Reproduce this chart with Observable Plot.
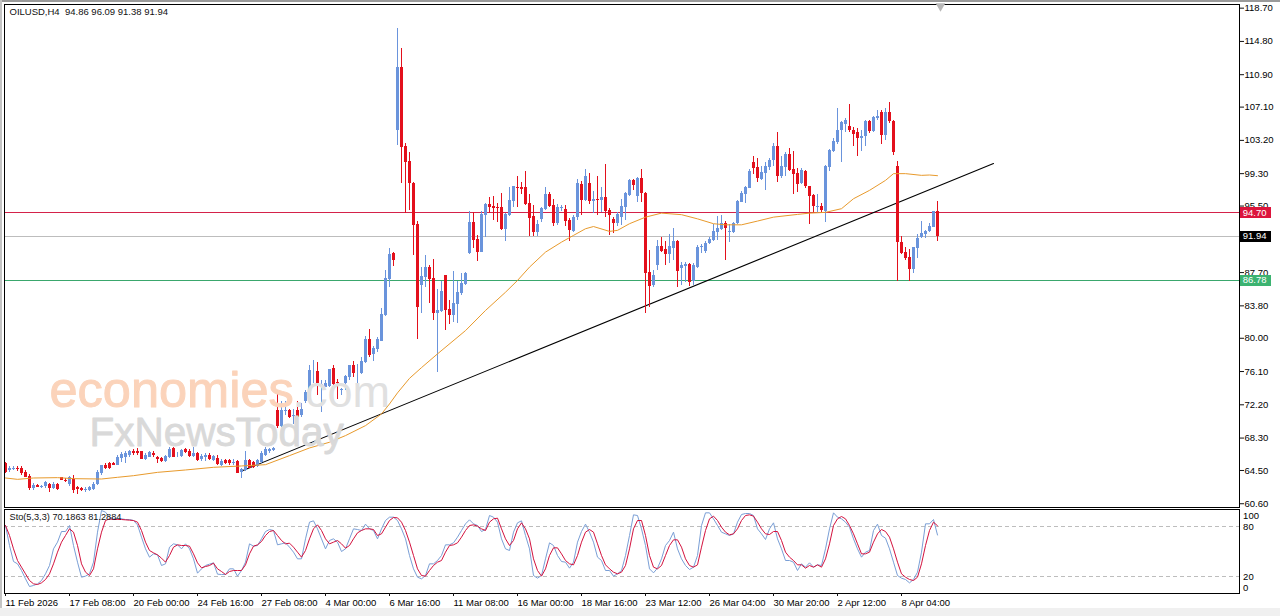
<!DOCTYPE html>
<html>
<head>
<meta charset="utf-8">
<script src="https://cdn.jsdelivr.net/npm/d3@7"></script>
<script src="https://cdn.jsdelivr.net/npm/@observablehq/plot@0.6"></script>
<style>
html,body{margin:0;padding:0;background:#fff;width:1280px;height:616px;overflow:hidden}
#chart{position:relative;width:1280px;height:616px}
#chart svg{position:absolute;left:0}
.strip{position:absolute}
</style>
</head>
<body>
<div id="chart">
<div class="strip" style="left:0;top:0;width:1280px;height:2px;background:#9a9a9a"></div>
<div class="strip" style="left:0;top:0;width:2px;height:608px;background:#c4c4c4"></div>
<div class="strip" style="left:0;top:608px;width:1280px;height:8px;background:#f0f0f0"></div>
</div>
<script>
const opens = [65.34,64.48,64.64,64.79,64.79,64.32,63.85,62.37,62.76,62.49,62.60,62.91,62.37,62.84,63.62,63.38,62.80,63.46,62.45,62.37,
62.13,62.21,62.29,62.84,64.09,65.11,65.26,65.34,65.11,65.85,65.97,66.28,66.75,66.75,66.67,65.81,66.05,66.51,65.97,65.89,
65.50,65.97,67.06,66.20,66.12,66.91,66.75,66.12,66.44,65.73,65.97,66.28,65.65,65.89,65.11,65.65,65.65,65.34,65.50,64.25,
64.48,65.65,65.42,64.95,65.42,66.28,66.75,66.83,71.52,69.64,71.36,71.52,70.81,71.52,70.89,72.60,72.77,76.06,76.13,74.41,
74.26,74.34,76.45,74.80,73.87,74.65,75.35,76.84,75.82,75.82,77.15,79.89,78.09,78.64,79.66,82.63,86.85,89.91,104.38,111.70,
102.50,100.74,98.20,93.35,86.19,87.09,88.34,87.01,82.94,83.18,87.32,83.33,82.71,83.96,85.29,86.31,89.98,93.58,91.55,90.10,
94.44,95.70,95.46,95.38,95.30,92.80,94.44,96.01,97.73,97.65,97.65,95.77,94.29,92.41,93.97,95.15,96.87,95.54,93.43,95.23,
95.07,93.82,92.57,94.13,98.04,96.17,98.12,96.09,96.24,96.17,96.48,94.99,93.90,93.43,94.21,95.30,96.79,98.51,96.63,98.75,
97.03,87.72,86.15,88.50,90.77,90.38,89.83,90.54,91.40,88.19,88.42,88.66,86.62,88.35,90.62,90.22,91.08,91.48,92.41,92.73,
93.43,92.41,92.41,93.43,95.94,96.87,97.58,100.63,100.00,98.67,99.30,100.00,100.79,102.43,98.91,100.00,101.57,99.77,99.30,98.13,
99.61,97.74,96.72,95.31,95.47,94.92,100.00,101.88,102.90,104.31,105.09,104.86,104.39,104.07,103.37,103.60,105.40,104.23,105.79,106.50,
103.76,106.50,105.40,100.16,91.24,90.07,89.44,88.11,90.54,91.79,92.18,92.49,93.04,94.86];
const highs = [65.42,64.95,64.95,64.95,64.95,64.48,64.01,62.99,62.84,62.76,63.15,62.99,63.07,62.99,63.70,63.54,63.78,63.93,62.68,62.52,
62.45,62.60,63.07,64.48,65.11,65.34,65.42,65.42,66.20,66.59,66.67,66.83,66.91,67.06,66.75,66.44,66.75,66.67,66.12,65.97,
66.28,67.14,67.22,66.59,66.91,67.06,66.98,67.14,66.59,66.36,66.51,66.51,66.28,66.20,65.73,65.81,65.81,65.73,65.65,64.79,
66.75,65.81,65.50,65.73,66.67,67.22,67.06,67.22,73.87,72.54,72.54,71.60,71.60,72.54,72.30,73.90,76.80,77.39,77.15,75.00,
75.04,76.37,76.76,75.12,74.10,75.63,76.84,77.31,76.92,77.78,80.20,80.99,79.03,80.05,83.45,87.95,90.49,90.06,116.27,114.00,
102.82,101.80,98.25,93.66,88.34,89.71,88.54,89.20,85.68,86.70,87.40,84.43,87.79,86.70,87.64,87.72,94.91,94.80,92.06,94.91,
95.85,96.56,96.63,95.85,96.95,94.68,97.73,97.85,98.98,98.28,99.53,96.87,95.54,93.82,95.38,97.65,97.10,96.24,95.70,95.62,
95.54,94.05,94.37,98.67,98.36,99.76,99.29,97.26,98.98,97.73,100.39,95.19,94.21,94.76,96.32,97.10,98.67,98.67,98.83,99.76,
97.10,90.30,87.95,91.47,91.87,91.40,92.18,92.88,91.48,88.93,88.93,88.82,88.74,90.89,91.01,91.40,91.87,93.35,94.29,94.45,
93.74,93.28,93.59,96.17,97.19,97.81,99.77,101.33,101.02,100.16,100.55,101.10,102.82,104.15,101.33,101.73,102.19,101.84,99.85,99.85,
99.69,97.81,96.80,96.87,95.78,100.24,102.12,103.37,106.97,105.40,105.72,107.44,104.70,104.62,104.31,105.48,105.48,106.03,106.73,106.73,
106.89,107.59,105.48,100.71,91.95,90.69,90.46,90.69,92.18,93.67,92.65,93.51,94.92,96.09];
const lows = [64.20,64.28,64.48,64.40,63.89,63.62,62.21,62.21,62.45,62.41,62.37,61.94,62.29,62.13,63.31,63.07,62.68,61.82,61.66,61.98,
61.94,62.06,62.21,62.76,63.89,64.64,64.64,65.03,65.03,65.46,65.34,65.97,66.20,66.28,65.73,65.65,65.97,66.05,65.34,65.42,
65.42,65.89,65.97,65.97,65.97,66.44,65.97,65.97,65.50,65.50,65.58,65.65,65.50,65.03,64.95,65.18,65.11,65.03,64.09,63.54,
64.40,64.68,64.79,64.87,65.26,66.12,66.44,66.75,69.48,69.56,70.93,70.54,69.88,70.66,70.74,72.40,72.69,74.65,73.28,71.32,
74.18,74.26,74.49,72.85,73.28,73.90,75.04,75.43,74.45,75.74,77.00,77.70,77.31,78.36,79.58,82.55,85.91,88.42,102.62,98.20,
94.68,94.99,89.71,79.89,82.94,85.92,84.04,82.08,76.02,83.06,80.91,81.61,81.89,81.69,85.02,86.19,89.83,90.53,89.04,90.02,
91.86,94.60,93.82,93.62,92.64,91.39,94.29,95.38,95.38,96.87,95.54,91.94,91.94,91.94,93.58,94.99,95.38,93.11,93.27,94.91,
93.11,91.39,92.41,93.82,94.37,96.01,95.70,94.60,94.37,94.80,94.21,92.10,92.33,93.11,93.19,93.82,96.63,97.34,95.93,95.93,
82.94,83.65,85.92,87.95,90.07,88.54,88.74,89.13,85.92,86.19,86.59,86.08,86.19,88.19,89.91,89.91,91.01,91.40,91.48,92.65,
89.13,91.24,92.34,93.28,95.86,95.78,97.50,99.22,98.28,98.44,97.34,99.69,100.08,98.28,98.75,98.91,99.53,96.87,97.11,98.05,
97.50,93.28,94.68,94.68,94.76,93.59,99.53,101.80,102.74,100.55,104.15,104.07,102.43,101.33,101.88,102.43,103.99,104.07,105.56,102.66,
103.21,105.17,101.41,86.62,89.83,89.13,86.70,87.64,89.36,91.71,91.71,92.41,92.96,91.38];
const closes = [64.28,64.79,64.79,64.64,64.09,63.70,62.33,62.76,62.52,62.68,63.07,62.37,62.91,62.29,63.38,63.15,63.62,62.13,62.29,62.21,
62.29,62.45,62.91,64.28,65.03,64.79,64.79,65.11,65.97,66.36,66.51,66.67,66.44,66.51,65.81,66.28,66.59,66.28,65.81,65.58,
66.12,66.98,66.05,66.28,66.83,66.59,66.12,66.44,65.65,66.12,66.20,65.81,66.12,65.18,65.50,65.34,65.26,65.42,64.17,64.64,
65.65,64.79,64.87,65.65,66.51,66.98,66.98,67.06,69.64,71.52,71.52,70.74,70.93,70.74,71.60,73.60,76.21,76.13,74.65,74.57,
74.65,76.29,74.57,74.65,73.98,75.51,76.76,75.82,75.90,77.23,79.89,77.93,78.80,79.81,82.79,87.01,89.83,89.12,111.70,102.42,
100.62,98.20,93.27,83.65,87.25,88.34,86.85,82.94,83.26,85.45,83.26,82.71,84.04,85.37,86.46,87.56,93.58,91.47,90.06,94.52,
95.70,95.38,95.23,95.23,92.72,94.52,96.17,97.81,97.57,97.49,95.70,94.05,92.41,93.35,95.23,96.87,95.46,93.43,95.38,95.38,
93.66,92.64,94.21,98.12,96.17,98.98,96.01,96.24,96.17,96.48,94.83,94.44,93.51,94.52,95.46,96.95,98.51,97.96,98.75,96.95,
87.64,86.07,87.32,90.77,90.22,89.83,90.77,91.40,87.88,88.58,88.66,86.55,88.50,90.69,90.77,91.16,91.63,92.49,92.88,93.43,
92.88,92.49,93.51,96.09,97.03,97.66,99.61,99.93,98.75,99.46,100.16,100.86,102.43,98.99,100.16,101.57,99.69,99.22,98.05,99.69,
97.74,96.64,95.39,95.47,95.00,100.16,102.04,103.06,104.39,105.25,105.48,104.39,103.92,103.37,103.68,105.40,104.23,105.87,106.03,103.76,
106.50,105.40,101.73,91.24,89.91,89.36,88.03,90.62,91.71,92.26,92.57,93.12,94.84,91.94];

const maIndex = [0,3,7,13,17,24,28,32,38,45,52,59,65,71,76,81,85,90,94,96,98,101,104,108,115,120,125,128,131,135,139,142,145,147,151,153,156,160,164,169,173,177,180,184,188,192,198,201,205,209,212,216,220,222,225,229,231,233];
const maPrice = [63.62,63.46,63.62,63.66,63.54,63.50,63.70,63.89,64.28,64.56,64.87,65.03,65.18,66.24,67.14,67.81,68.59,69.76,71.13,72.30,73.60,75.30,76.56,78.17,80.90,83.26,85.40,86.78,88.34,90.10,91.27,92.06,92.84,93.10,92.53,92.65,93.43,94.20,94.67,94.49,94.00,93.43,93.30,93.30,93.74,94.20,94.52,94.67,94.76,95.19,96.36,97.34,98.51,99.30,99.30,99.10,99.14,99.06];

const stoK = [81.6,57.6,38.4,35.6,27.6,17.6,8.4,9.6,11.6,15.6,23.6,33.6,53.6,61.6,74.4,74.4,81.6,57.6,37.6,19.6,
20.8,23.6,37.6,73.6,99.6,97.6,91.6,89.6,89.6,89.6,88.8,88.8,87.6,82.4,67.6,53.6,43.6,47.6,46.4,33.6,
35.6,55.6,59.6,58.4,53.6,59.6,53.6,41.6,24.4,29.6,33.6,35.2,36.8,23.2,22.8,22.8,29.6,29.6,20.8,27.6,
37.6,59.6,56.8,57.6,65.6,74.4,76.8,75.6,58.4,59.6,60.8,55.6,49.6,41.6,41.6,65.6,85.6,87.2,77.6,65.6,
53.6,63.6,65.6,61.6,50.4,53.6,65.6,77.6,76.8,75.6,83.2,77.6,75.6,65.6,77.6,87.6,91.6,91.6,87.6,77.6,
65.6,45.6,29.6,19.6,17.6,21.6,35.6,35.6,39.6,45.6,58.4,58.4,60.8,67.6,75.6,83.6,88.4,83.6,81.6,74.4,
76.8,93.6,91.6,85.6,65.6,53.6,51.6,73.6,84.8,87.2,69.6,53.6,21.6,18.4,21.6,41.6,60.8,57.6,45.6,38.4,
37.6,30.4,37.6,61.6,74.4,83.2,73.6,61.6,43.6,39.6,27.6,27.6,20.8,23.6,27.6,45.6,69.6,94.4,93.6,77.6,
57.6,29.6,24.8,30.4,41.6,57.6,63.6,73.6,53.6,41.6,33.6,28.8,31.6,45.6,81.6,96.8,96.8,89.6,81.6,73.6,
71.6,69.6,71.6,85.6,94.8,96,96,93.6,77.6,71.6,64.8,77.6,84.8,65.6,53.6,39.6,39.6,37.6,27.6,35.6,
31.6,36.8,31.6,34.4,33.6,53.6,77.6,96.8,91.6,89.6,85.6,79.6,65.6,53.6,43.6,49.6,51.6,75.6,83.2,69.6,
66.4,53.6,37.6,21.6,18.4,16.8,12.8,16.8,25.6,49.6,83.6,83.6,88.8,70.19];
const stoD = [81.6,69.6,53.6,39.6,31.6,23.6,15.6,11.6,10.8,12.8,16.8,23.6,35.6,49.6,61.6,69.6,77.6,73.6,57.6,35.6,
25.6,21.6,29.6,53.6,73.6,87.6,89.6,88.8,88.8,88.8,88.4,88,87.6,85.6,75.6,61.6,51.6,48.8,46.4,42.4,
37.6,45.6,55.6,58.4,57.6,57.6,56.8,47.6,36.8,30.8,32.4,33.6,36.4,29.6,26.4,22.8,26.4,27.6,27.6,27.6,
34.4,47.6,56.8,58.4,62.4,69.6,74.4,75.6,69.6,63.6,59.6,60.4,55.6,49.6,43.6,51.6,65.6,77.6,82.4,75.6,
65.6,59.6,61.6,63.6,59.6,54.4,57.6,65.6,72.8,75.6,77.6,77.6,76.8,69.6,71.6,79.6,87.6,91.2,90.8,85.6,
75.6,61.6,45.6,29.6,21.6,20.8,27.6,33.6,37.6,39.6,49.6,57.6,58.4,60.8,67.6,75.6,81.6,82.4,80.8,77.6,
75.6,85.6,89.6,90.4,77.6,65.6,57.6,63.6,77.6,84.8,77.6,65.6,41.6,27.6,20.8,29.6,45.6,54.8,54.8,47.6,
39.6,35.6,34.4,45.6,61.6,73.6,76.8,73.6,59.6,45.6,34.4,29.6,25.6,23.6,25.6,33.6,53.6,77.6,87.6,87.6,
69.6,45.6,31.6,29.6,33.6,45.6,57.6,64.4,64.4,55.6,41.6,33.6,31.6,34.4,55.6,75.6,89.6,92.8,87.6,79.6,
73.6,70.4,71.6,77.6,87.6,93.6,94.4,92.8,85.6,77.6,71.6,70.8,74.4,74.4,63.6,49.6,43.6,39.6,34.4,34.4,
30.4,33.6,31.6,34.4,31.6,41.6,59.6,81.6,89.6,92.4,89.6,81.6,71.6,59.6,47.6,47.6,49.6,61.6,71.6,76.8,
74.4,67.6,53.6,37.6,23.6,19.6,16.8,15.6,19.6,35.6,57.6,75.6,85.6,81.29];

const priceTicks = [118.7,114.8,110.9,107.1,103.2,99.3,95.5,91.6,87.7,83.8,80.0,76.1,72.2,68.3,64.5,60.6];
const levelValues = [94.70,91.94,86.78];
const levelColors = ["#d4224a","#bdbdbd","#3aa76d"];
const tagColors = ["#dc143c","#000000","#3cb371"];
const trendIndex = [58.75,247];
const trendPrice = [64.38,100.49];
const stoLevels = [100,80,20,0];
const dateTickIndex = [0,16,32,48,64,80,96,112,128,144,160,176,192,208,224];
const dateLabels = ["11 Feb 2026","17 Feb 08:00","20 Feb 00:00","24 Feb 16:00","27 Feb 08:00","4 Mar 00:00","6 Mar 16:00","11 Mar 08:00","16 Mar 00:00","18 Mar 16:00","23 Mar 12:00","26 Mar 04:00","30 Mar 20:00","2 Apr 12:00","8 Apr 04:00"];
const headerText = "OILUSD,H4  94.86 96.09 91.38 91.94";
const stoText = "Sto(5,3,3) 70.1863 81.2884";

const BLUE = "#6a94dc", RED = "#e3101c", FONT = "'Liberation Sans', Arial, sans-serif";
const candles = opens.map((o,i)=>({i,o,h:highs[i],l:lows[i],c:closes[i]}));
const bull = d=>d.c>=d.o;
const xDomain = [-0.25,308.5];
const PEACH = "#fbd3ba", GREY1 = "#e0e0e0", GREY2 = "#d9d9d9";

const main = Plot.plot({
  width:1280,height:508,marginLeft:4,marginRight:41,marginTop:4,marginBottom:1,
  style:{fontFamily:FONT,fontSize:"9.5px",background:"transparent",color:"#111"},
  x:{domain:xDomain,axis:null},
  y:{domain:[60.16,119.13],axis:null},
  marks:[
    Plot.ruleY(levelValues.map((v,k)=>({v,k})),{y:"v",stroke:d=>levelColors[d.k],strokeWidth:1,shapeRendering:"crispEdges"}),
    Plot.line(trendIndex.map((x,k)=>({x,y:trendPrice[k]})),{x:"x",y:"y",stroke:"#000",strokeWidth:1.1}),
    Plot.ruleX(candles,{x:"i",y1:"l",y2:"h",stroke:d=>bull(d)?BLUE:RED,strokeWidth:1,shapeRendering:"crispEdges"}),
    Plot.ruleX(candles,{x:"i",y1:"o",y2:"c",stroke:d=>bull(d)?BLUE:RED,strokeWidth:3,shapeRendering:"crispEdges"}),
    Plot.line(maIndex.map((x,k)=>({x,y:maPrice[k]})),{x:"x",y:"y",stroke:"#e89a2c",strokeWidth:1}),
    Plot.frame({stroke:"#000",strokeWidth:1,shapeRendering:"crispEdges"}),
    Plot.axisY({anchor:"right",ticks:priceTicks,tickFormat:d=>d.toFixed(2),tickSize:4,tickPadding:1,label:null,fill:"#000"}),
    ...levelValues.map((v,k)=>Plot.ruleY([v],{x1:308.75,x2:316.5,stroke:tagColors[k],strokeWidth:11,shapeRendering:"crispEdges"})),
    Plot.text(levelValues,{x:309.3,y:d=>d,text:d=>d.toFixed(2),fill:"#fff",textAnchor:"start"}),
    Plot.dot([118.95],{x:[233.75],y:d=>d,symbol:"triangle",r:3.6,rotate:180,fill:"#b8b8b8"}),
    Plot.text([headerText],{frameAnchor:"top-left",dx:5,dy:4,fill:"#111",fontSize:9.5}),
    Plot.text(["economies"],{frameAnchor:"top-left",dx:45,dy:402,lineAnchor:"bottom",fill:PEACH,fontSize:50.5,stroke:PEACH,strokeWidth:1}),
    Plot.text([".com"],{frameAnchor:"top-left",dx:288,dy:402,lineAnchor:"bottom",fill:GREY1,fontSize:45}),
    Plot.text(["FxNewsToday"],{frameAnchor:"top-left",dx:85,dy:441,lineAnchor:"bottom",fill:GREY2,fontSize:40.5,stroke:GREY2,strokeWidth:0.8})
  ]
});
main.style.top = "0px";

const stoRows = stoK.map((k,i)=>({i,k,d:stoD[i]}));
const sto = Plot.plot({
  width:1280,height:108,marginLeft:4,marginRight:41,marginTop:1,marginBottom:23,
  style:{fontFamily:FONT,fontSize:"9.5px",background:"transparent",color:"#111"},
  x:{domain:xDomain,axis:null},
  y:{domain:[0,100.8],axis:null},
  marks:[
    Plot.ruleY([80,20],{stroke:"#bdbdbd",strokeDasharray:"4,3",strokeWidth:1,shapeRendering:"crispEdges"}),
    Plot.line(stoRows,{x:"i",y:"k",stroke:"#7a9fd6",strokeWidth:1}),
    Plot.line(stoRows,{x:"i",y:"d",stroke:"#d3123e",strokeWidth:1}),
    Plot.frame({stroke:"#000",strokeWidth:1,shapeRendering:"crispEdges"}),
    Plot.axisX({anchor:"bottom",ticks:dateTickIndex,tickFormat:i=>dateLabels[dateTickIndex.indexOf(i)],textAnchor:"start",tickSize:3,tickPadding:2.5,label:null,fill:"#000"}),
    Plot.text(stoLevels.slice(0,1),{x:309.4,y:d=>d,text:d=>String(d),dy:6,textAnchor:"start",fill:"#000"}),
    Plot.text(stoLevels.slice(1,3),{x:309.4,y:d=>d,text:d=>String(d),textAnchor:"start",fill:"#000"}),
    Plot.text(stoLevels.slice(3),{x:309.4,y:d=>d,text:d=>String(d),dy:-6,textAnchor:"start",fill:"#000"}),
    Plot.text([stoText],{frameAnchor:"top-left",dx:5,dy:4,fill:"#111",fontSize:9.2})
  ]
});
sto.style.top = "508px";

const root = document.getElementById("chart");
root.appendChild(main);
root.appendChild(sto);
</script>
</body>
</html>
